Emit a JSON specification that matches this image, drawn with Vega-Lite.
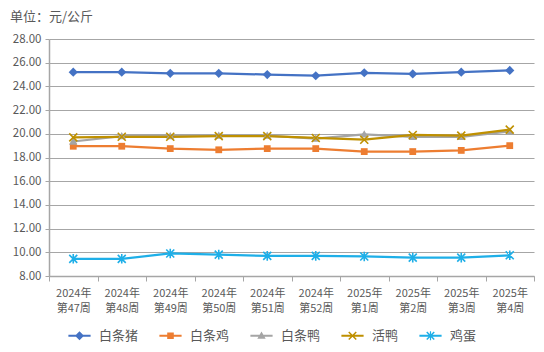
{
  "$schema": "https://vega.github.io/schema/vega-lite/v6.json",
  "width": 485,
  "height": 237,
  "autosize": "none",
  "padding": {"left": 49, "top": 39, "right": 10, "bottom": 76},
  "background": "white",
  "title": {
    "text": "单位：元/公斤",
    "anchor": "start",
    "frame": "group",
    "dx": -39,
    "offset": 9,
    "font": "Noto Sans CJK SC",
    "fontSize": 13,
    "fontWeight": "normal",
    "color": "#595959"
  },
  "config": {
    "font": "Noto Sans CJK SC",
    "view": {"stroke": null}
  },
  "data": {
    "values": [
      {"week": "2024年第47周", "series": "白条猪", "price": 25.2},
      {"week": "2024年第48周", "series": "白条猪", "price": 25.2},
      {"week": "2024年第49周", "series": "白条猪", "price": 25.1},
      {"week": "2024年第50周", "series": "白条猪", "price": 25.1},
      {"week": "2024年第51周", "series": "白条猪", "price": 25.0},
      {"week": "2024年第52周", "series": "白条猪", "price": 24.9},
      {"week": "2025年第1周", "series": "白条猪", "price": 25.15},
      {"week": "2025年第2周", "series": "白条猪", "price": 25.05},
      {"week": "2025年第3周", "series": "白条猪", "price": 25.2},
      {"week": "2025年第4周", "series": "白条猪", "price": 25.35},
      {"week": "2024年第47周", "series": "白条鸡", "price": 18.95},
      {"week": "2024年第48周", "series": "白条鸡", "price": 18.95},
      {"week": "2024年第49周", "series": "白条鸡", "price": 18.75},
      {"week": "2024年第50周", "series": "白条鸡", "price": 18.65},
      {"week": "2024年第51周", "series": "白条鸡", "price": 18.75},
      {"week": "2024年第52周", "series": "白条鸡", "price": 18.75},
      {"week": "2025年第1周", "series": "白条鸡", "price": 18.5},
      {"week": "2025年第2周", "series": "白条鸡", "price": 18.5},
      {"week": "2025年第3周", "series": "白条鸡", "price": 18.6},
      {"week": "2025年第4周", "series": "白条鸡", "price": 19.0},
      {"week": "2024年第47周", "series": "白条鸭", "price": 19.35},
      {"week": "2024年第48周", "series": "白条鸭", "price": 19.8},
      {"week": "2024年第49周", "series": "白条鸭", "price": 19.8},
      {"week": "2024年第50周", "series": "白条鸭", "price": 19.85},
      {"week": "2024年第51周", "series": "白条鸭", "price": 19.85},
      {"week": "2024年第52周", "series": "白条鸭", "price": 19.6},
      {"week": "2025年第1周", "series": "白条鸭", "price": 19.95},
      {"week": "2025年第2周", "series": "白条鸭", "price": 19.75},
      {"week": "2025年第3周", "series": "白条鸭", "price": 19.75},
      {"week": "2025年第4周", "series": "白条鸭", "price": 20.2},
      {"week": "2024年第47周", "series": "活鸭", "price": 19.7},
      {"week": "2024年第48周", "series": "活鸭", "price": 19.75},
      {"week": "2024年第49周", "series": "活鸭", "price": 19.75},
      {"week": "2024年第50周", "series": "活鸭", "price": 19.8},
      {"week": "2024年第51周", "series": "活鸭", "price": 19.8},
      {"week": "2024年第52周", "series": "活鸭", "price": 19.65},
      {"week": "2025年第1周", "series": "活鸭", "price": 19.5},
      {"week": "2025年第2周", "series": "活鸭", "price": 19.9},
      {"week": "2025年第3周", "series": "活鸭", "price": 19.85},
      {"week": "2025年第4周", "series": "活鸭", "price": 20.35},
      {"week": "2024年第47周", "series": "鸡蛋", "price": 9.45},
      {"week": "2024年第48周", "series": "鸡蛋", "price": 9.45},
      {"week": "2024年第49周", "series": "鸡蛋", "price": 9.9},
      {"week": "2024年第50周", "series": "鸡蛋", "price": 9.8},
      {"week": "2024年第51周", "series": "鸡蛋", "price": 9.7},
      {"week": "2024年第52周", "series": "鸡蛋", "price": 9.7},
      {"week": "2025年第1周", "series": "鸡蛋", "price": 9.65},
      {"week": "2025年第2周", "series": "鸡蛋", "price": 9.55},
      {"week": "2025年第3周", "series": "鸡蛋", "price": 9.55},
      {"week": "2025年第4周", "series": "鸡蛋", "price": 9.75}
    ]
  },
  "encoding": {
    "x": {
      "field": "week",
      "type": "nominal",
      "sort": null,
      "scale": {"type": "band", "paddingInner": 0, "paddingOuter": 0},
      "axis": {
        "title": null,
        "labelAngle": 0,
        "labelExpr": "[slice(datum.label,0,5), slice(datum.label,5)]",
        "labelFont": "Noto Sans CJK SC",
        "labelFontSize": 11,
        "labelColor": "#595959",
        "labelLineHeight": 15,
        "labelPadding": 6,
        "tickBand": "extent",
        "ticks": true,
        "tickSize": 5,
        "tickColor": "#A6A6A6",
        "domainColor": "#A6A6A6",
        "domainWidth": 1.5,
        "grid": false
      }
    },
    "y": {
      "field": "price",
      "type": "quantitative",
      "scale": {"domain": [8, 28], "nice": false, "zero": false},
      "axis": {
        "title": null,
        "values": [8, 10, 12, 14, 16, 18, 20, 22, 24, 26, 28],
        "format": ".2f",
        "labelFont": "Noto Sans CJK SC",
        "labelFontSize": 11.5,
        "labelColor": "#595959",
        "labelPadding": 4,
        "tickSize": 4,
        "tickColor": "#A6A6A6",
        "domainColor": "#A6A6A6",
        "domainWidth": 1.5,
        "grid": true,
        "gridColor": "#A6A6A6",
        "gridWidth": 1.2
      }
    }
  },
  "resolve": {
    "scale": {"shape": "independent", "color": "independent"},
    "legend": {"shape": "independent", "color": "independent"}
  },
  "layer": [
    {
      "mark": {"type": "line", "strokeWidth": 2.25},
      "encoding": {
        "color": {
          "field": "series",
          "type": "nominal",
          "scale": {"domain": ["白条猪", "白条鸡", "白条鸭", "活鸭", "鸡蛋"], "range": ["#4472C4", "#ED7D31", "#A5A5A5", "#BF9000", "#1EAFE8"]},
          "legend": null
        }
      }
    },
    {
      "transform": [{"filter": "indexof(['白条猪','白条鸡','白条鸭'], datum.series) >= 0"}],
      "mark": {"type": "point", "filled": true, "opacity": 1, "size": 64},
      "encoding": {
        "color": {
          "field": "series",
          "type": "nominal",
          "scale": {"domain": ["白条猪", "白条鸡", "白条鸭", "活鸭", "鸡蛋"], "range": ["#4472C4", "#ED7D31", "#A5A5A5", "#BF9000", "#1EAFE8"]},
          "legend": null
        },
        "shape": {
          "field": "series",
          "type": "nominal",
          "scale": {"domain": ["白条猪", "白条鸡", "白条鸭", "活鸭", "鸡蛋"], "range": ["M0,-1.15L1.15,0L0,1.15L-1.15,0Z", "M-0.85,-0.85L0.85,-0.85L0.85,0.85L-0.85,0.85Z", "M0,-1.05L1.05,0.8L-1.05,0.8Z", "M-1,-1L1,1M-1,1L1,-1", "M-1,-1L1,1M-1,1L1,-1M0,-1.2L0,1.2"]},
          "legend": null
        }
      }
    },
    {
      "transform": [{"filter": "indexof(['活鸭','鸡蛋'], datum.series) >= 0"}],
      "mark": {"type": "point", "filled": false, "opacity": 1, "size": 64, "strokeWidth": 1.6},
      "encoding": {
        "color": {
          "field": "series",
          "type": "nominal",
          "scale": {"domain": ["白条猪", "白条鸡", "白条鸭", "活鸭", "鸡蛋"], "range": ["#4472C4", "#ED7D31", "#A5A5A5", "#BF9000", "#1EAFE8"]},
          "legend": null
        },
        "shape": {
          "field": "series",
          "type": "nominal",
          "scale": {"domain": ["白条猪", "白条鸡", "白条鸭", "活鸭", "鸡蛋"], "range": ["M0,-1.15L1.15,0L0,1.15L-1.15,0Z", "M-0.85,-0.85L0.85,-0.85L0.85,0.85L-0.85,0.85Z", "M0,-1.05L1.05,0.8L-1.05,0.8Z", "M-1,-1L1,1M-1,1L1,-1", "M-1,-1L1,1M-1,1L1,-1M0,-1.2L0,1.2"]},
          "legend": null
        }
      }
    },
    {
      "mark": {"type": "point", "filled": true, "opacity": 0, "size": 36},
      "encoding": {
        "color": {
          "field": "series",
          "type": "nominal",
          "scale": {"domain": ["白条猪", "白条鸡", "白条鸭", "活鸭", "鸡蛋"], "range": ["#4472C4", "#ED7D31", "#A5A5A5", "#BF9000", "#1EAFE8"]},
          "legend": {
            "orient": "none", "direction": "horizontal", "legendX": 24, "legendY": 290,
            "title": null, "padding": 0, "labelOffset": 13, "columnPadding": 20, "symbolSize": 36,
            "labelFont": "Noto Sans CJK SC", "labelFontSize": 13, "labelColor": "#595959",
            "symbolOpacity": 1,
            "encode": {"symbols": {"update": {"opacity": {"value": 1}}}}
          }
        },
        "shape": {
          "field": "series",
          "type": "nominal",
          "scale": {"domain": ["白条猪", "白条鸡", "白条鸭", "活鸭", "鸡蛋"], "range": [
            "M-3.7,-0.35L3.7,-0.35L3.7,0.35L-3.7,0.35ZM0,-1.5L1.5,0L0,1.5L-1.5,0Z",
            "M-3.7,-0.35L3.7,-0.35L3.7,0.35L-3.7,0.35ZM-1.1,-1.1L1.1,-1.1L1.1,1.1L-1.1,1.1Z",
            "M-3.7,-0.35L3.7,-0.35L3.7,0.35L-3.7,0.35ZM0,-1.4L1.4,1L-1.4,1Z",
            "M-3.7,-0.35L3.7,-0.35L3.7,0.35L-3.7,0.35ZM-1.073,-1.427L1.427,1.073L1.073,1.427L-1.427,-1.073ZM-1.073,1.427L-1.427,1.073L1.073,-1.427L1.427,-1.073Z",
            "M-3.7,-0.35L3.7,-0.35L3.7,0.35L-3.7,0.35ZM-1.073,-1.427L1.427,1.073L1.073,1.427L-1.427,-1.073ZM-1.073,1.427L-1.427,1.073L1.073,-1.427L1.427,-1.073ZM-0.2,-1.5L0.2,-1.5L0.2,1.5L-0.2,1.5Z"
          ]},
          "legend": {
            "orient": "none", "direction": "horizontal", "legendX": 24, "legendY": 290,
            "title": null, "padding": 0, "labelOffset": 13, "columnPadding": 20, "symbolSize": 36,
            "labelFont": "Noto Sans CJK SC", "labelFontSize": 13, "labelColor": "#595959",
            "symbolOpacity": 1,
            "encode": {"symbols": {"update": {"opacity": {"value": 1}}}}
          }
        }
      }
    }
  ]
}
